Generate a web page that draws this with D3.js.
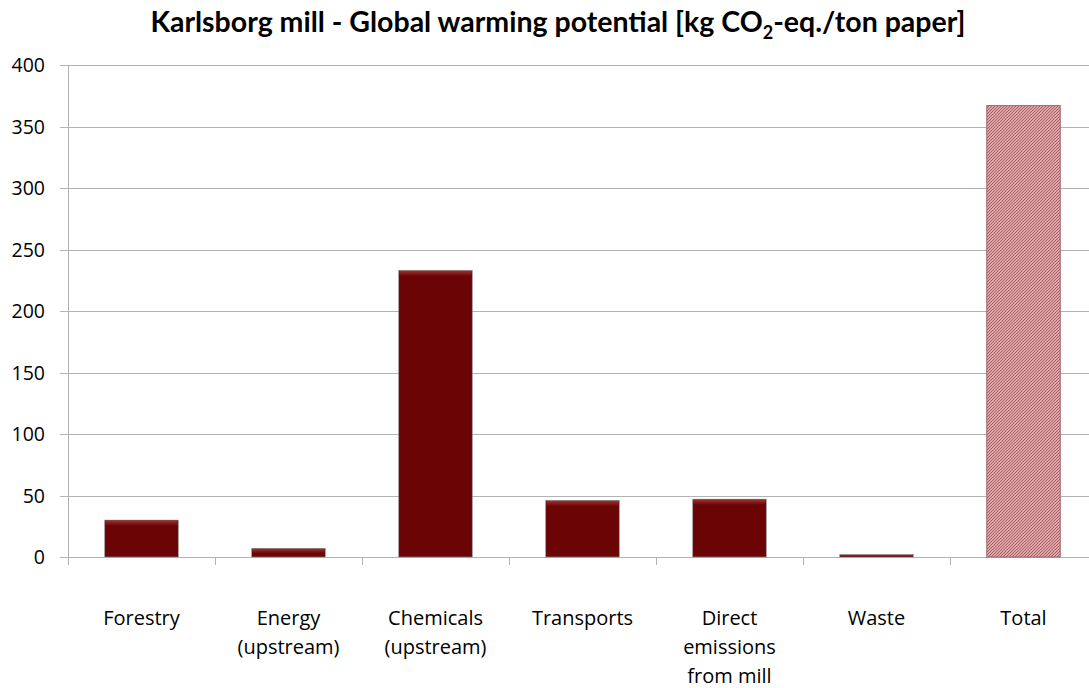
<!DOCTYPE html>
<html><head><meta charset="utf-8">
<script src="https://cdn.jsdelivr.net/npm/d3@7"></script>
<style>body{margin:0;background:#fff;} svg{display:block;}</style>
</head><body>
<svg id="c" width="1089" height="688"></svg>
<script>
const categories = [["Forestry"],["Energy","(upstream)"],["Chemicals","(upstream)"],["Transports"],["Direct","emissions","from mill"],["Waste"],["Total"]];
const values = [30, 7, 233, 46, 47, 2, 367];
const yTicks = [0, 50, 100, 150, 200, 250, 300, 350, 400];

(function(){
const svg = d3.select("#c");
const pL = 68, pR = 1097, pT = 65, pB = 557;
const x = d3.scaleBand().domain(d3.range(categories.length)).range([pL, pR]).paddingInner(0).paddingOuter(0);
const y = d3.scaleLinear().domain([0, 400]).range([pB, pT]);

const defs = svg.append("defs");
const g1 = defs.append("linearGradient").attr("id","bevel").attr("x1",0).attr("y1",0).attr("x2",0).attr("y2",1);
g1.append("stop").attr("offset",0).attr("stop-color","#a03030");
g1.append("stop").attr("offset",1).attr("stop-color","#6b0707");
const pat = defs.append("pattern").attr("id","hatch").attr("patternUnits","userSpaceOnUse").attr("width",3).attr("height",3);
pat.append("rect").attr("width",3).attr("height",3).attr("fill","#dca6a8");
pat.append("path").attr("d","M-1,1 l2,-2 M0,3 l3,-3 M2,4 l2,-2").attr("stroke","#ab5f62").attr("stroke-width",1.0);

svg.append("g").selectAll("line").data(yTicks).join("line")
  .attr("x1", pL).attr("x2", 1089).attr("y1", d => Math.round(y(d))+0.5).attr("y2", d => Math.round(y(d))+0.5)
  .attr("stroke", "#b3b3b3").attr("stroke-width", 1);
svg.append("g").selectAll("line").data(yTicks).join("line")
  .attr("x1", pL-8).attr("x2", pL).attr("y1", d => Math.round(y(d))+0.5).attr("y2", d => Math.round(y(d))+0.5)
  .attr("stroke", "#b3b3b3");
svg.append("line").attr("x1", pL+0.5).attr("x2", pL+0.5).attr("y1", pT).attr("y2", pB+8).attr("stroke","#b3b3b3");
svg.append("g").selectAll("line").data(d3.range(categories.length+1)).join("line")
  .attr("x1", d => Math.round(pL + d*x.bandwidth())+0.5).attr("x2", d => Math.round(pL + d*x.bandwidth())+0.5)
  .attr("y1", pB).attr("y2", pB+8).attr("stroke","#b3b3b3");

svg.append("g").selectAll("text").data(yTicks).join("text")
  .attr("x", 45).attr("y", d => y(d)).attr("dy","0.36em").attr("text-anchor","end")
  .attr("font-family","'Open Sans', sans-serif").attr("font-size",19.5).attr("fill","#000")
  .text(d => d);

const bw = x.bandwidth()*0.5;
const bars = svg.append("g");
values.forEach((v,i) => {
  const cx = x(i) + x.bandwidth()/2;
  const x0 = cx - bw/2, y0 = y(v), h = y(0) - y(v);
  if (i === values.length-1) {
    bars.append("rect").attr("x", x0).attr("y", y0).attr("width", bw).attr("height", h)
      .attr("fill","url(#hatch)").attr("stroke","#9a6a6b").attr("stroke-width",1);
  } else {
    bars.append("rect").attr("x", x0).attr("y", y0).attr("width", bw).attr("height", h)
      .attr("fill","#6b0505").attr("stroke","#8a8a8a").attr("stroke-width",0.6);
    const bev = Math.min(5, h/2);
    bars.append("rect").attr("x", x0+0.5).attr("y", y0+0.5).attr("width", bw-1).attr("height", bev)
      .attr("fill","url(#bevel)");
  }
});

const xl = svg.append("g");
categories.forEach((lines,i) => {
  const t = xl.append("text").attr("x", x(i)+x.bandwidth()/2).attr("y", 625)
    .attr("text-anchor","middle").attr("font-family","'Open Sans', sans-serif").attr("font-size",20).attr("fill","#000");
  lines.forEach((l,j) => t.append("tspan").attr("x", x(i)+x.bandwidth()/2).attr("dy", j===0?0:29).text(l));
});

const title = svg.append("text").attr("x", 558).attr("y", 32).attr("text-anchor","middle")
  .attr("font-family","Lato, 'Open Sans', sans-serif").attr("font-weight","bold").attr("font-size",28.5).attr("fill","#000");
title.append("tspan").text("Karlsborg mill - Global warming potential [kg CO");
title.append("tspan").attr("font-size",18).attr("dy",7).text("2");
title.append("tspan").attr("dy",-7).text("-eq./ton paper]");
})();
</script>
</body></html>
